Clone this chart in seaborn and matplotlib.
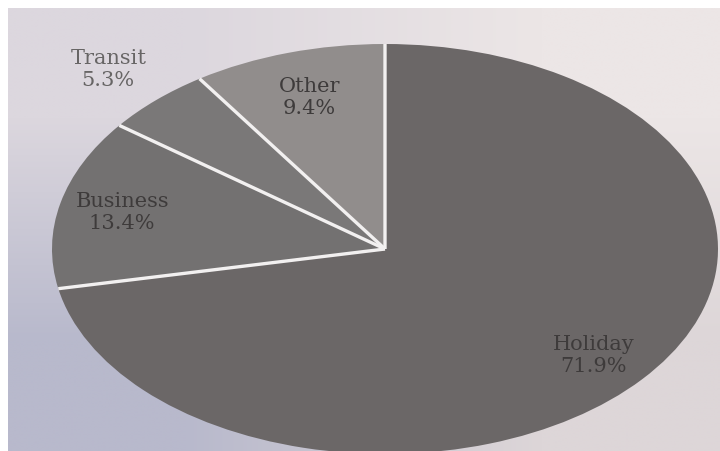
import matplotlib
matplotlib.use("Agg")
import matplotlib.pyplot as plt
import seaborn as sns
import numpy as np

# ---- data ----
categories = ["Holiday", "Business", "Transit", "Other"]
shares = [71.9, 13.4, 5.3, 9.4]
pct_labels = ["71.9%", "13.4%", "5.3%", "9.4%"]

# ---- style ----
sns.set_theme(style="white")
plt.rcParams["font.family"] = ["DejaVu Serif", "DejaVu Sans"]

slice_colors = ["#6b6767", "#737171", "#7a7878", "#918d8c"]
label_dist = [0.81, 0.81, 1.21, 0.78]
label_colors = ["#3e3b3b", "#3e3b3b", "#676565", "#3e3b3b"]

fig = plt.figure(figsize=(7.2, 4.52), dpi=100)
fig.patch.set_facecolor("white")

# photo-like paper background (soft gradient)
bg = fig.add_axes([8 / 720, 0, 712 / 720, 443 / 452])
bg.set_axis_off()
grad = np.array([[[0xdc, 0xd7, 0xde], [0xec, 0xe6, 0xe6]],
                 [[0xb8, 0xb9, 0xcc], [0xdd, 0xd6, 0xd8]]]) / 255.0
bg.imshow(grad, extent=(0, 1, 0, 1), interpolation="bilinear", aspect="auto")
bg.set_xlim(0, 1)
bg.set_ylim(0, 1)

ax = fig.add_axes([52 / 720, 1 - 455 / 452, 666 / 720, 410 / 452])
wedges, _ = ax.pie(shares, colors=slice_colors, startangle=90,
                   counterclock=False,
                   wedgeprops=dict(edgecolor="none", linewidth=0))
ax.set_aspect("auto")
ax.set_xlim(-1, 1)
ax.set_ylim(-1, 1)
ax.set_axis_off()

# white separators between slices (radial lines only)
for w in wedges:
    t = np.deg2rad(w.theta1)
    ax.plot([0, np.cos(t)], [0, np.sin(t)], color="#f2f0f0", lw=2.4,
            solid_capstyle="butt")

for w, name, pct, d, c in zip(wedges, categories, pct_labels, label_dist, label_colors):
    mid = np.deg2rad((w.theta1 + w.theta2) / 2)
    x, y = d * np.cos(mid), d * np.sin(mid)
    ax.text(x, y, f"{name}\n{pct}", ha="center", va="center",
            fontsize=15, color=c, linespacing=1.2)

fig.savefig("out.png", dpi=100, facecolor=fig.get_facecolor())
